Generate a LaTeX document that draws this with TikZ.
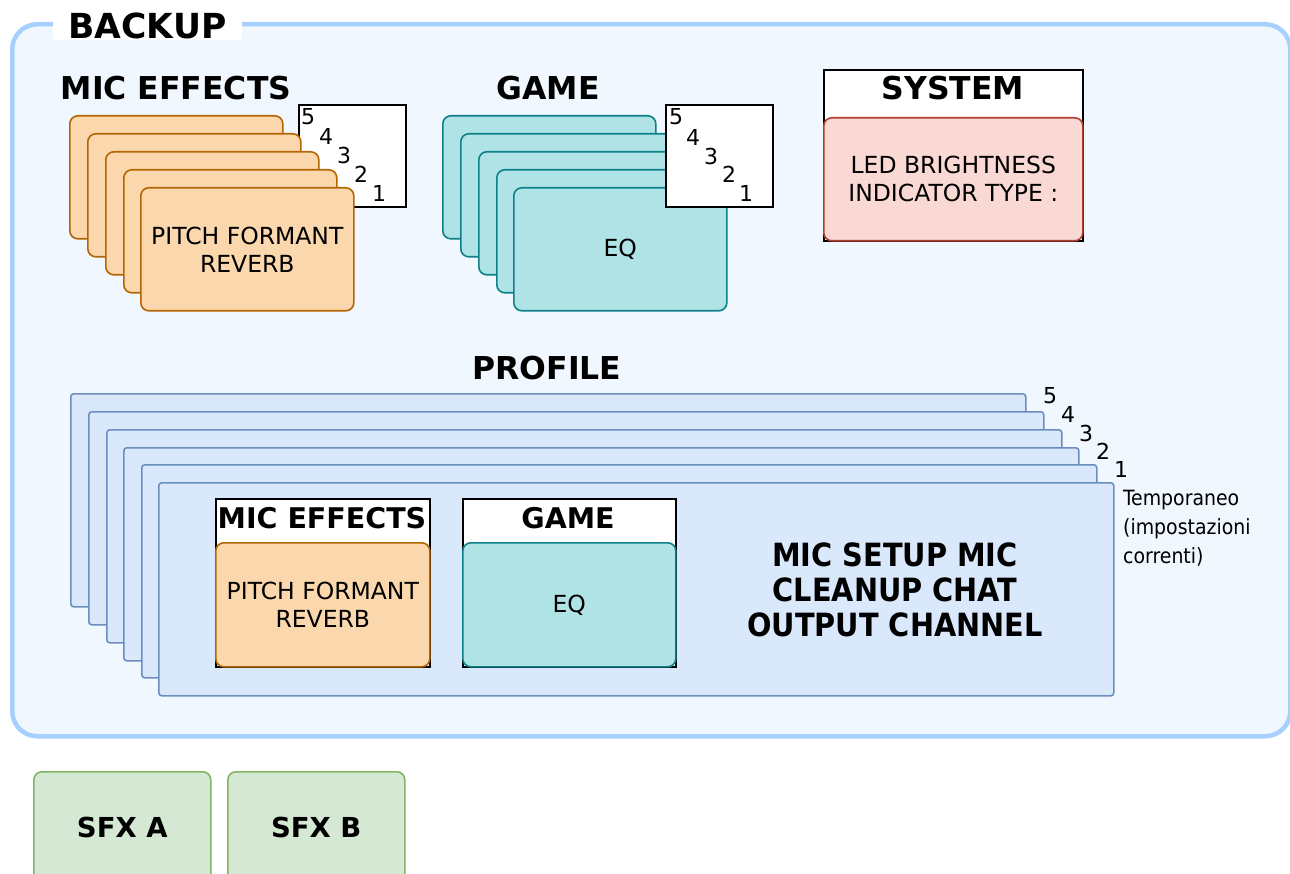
\documentclass[tikz,border=0pt]{standalone}
\usepackage{fontspec}
\setmainfont{DejaVu Sans}
\newfontfamily\condfont{DejaVu Sans Condensed}[BoldFont={DejaVu Sans Condensed Bold}]
\definecolor{bkfill}{HTML}{F0F7FE}
\definecolor{bkline}{HTML}{A6D1FF}
\definecolor{orf}{HTML}{FAD7AC}
\definecolor{ors}{HTML}{B46504}
\definecolor{tef}{HTML}{B0E3E6}
\definecolor{tes}{HTML}{0E8088}
\definecolor{ref}{HTML}{FAD9D5}
\definecolor{res}{HTML}{AE4132}
\definecolor{blf}{HTML}{DAE8FC}
\definecolor{bls}{HTML}{6C8EBF}
\definecolor{grf}{HTML}{D5E8D4}
\definecolor{grs}{HTML}{82B366}
\tikzset{
  box/.style={draw, line width=1.6pt, anchor=north west, inner sep=0pt, align=center},
  orcard/.style={box, rounded corners=8pt, fill=orf, draw=ors, minimum width=213pt, minimum height=123pt, font=\fontsize{23.5}{28}\selectfont},
  tecard/.style={box, rounded corners=8pt, fill=tef, draw=tes, minimum width=213pt, minimum height=123pt, font=\fontsize{23.5}{28}\selectfont},
  numbox/.style={box, fill=white, draw=black, minimum width=107pt, minimum height=102pt},
  num/.style={inner sep=0pt, font=\fontsize{22}{26}\selectfont},
  title/.style={inner sep=0pt, font=\bfseries\fontsize{31.5}{36}\selectfont},
  prcard/.style={box, rounded corners=3pt, fill=blf, draw=bls, minimum width=955pt, minimum height=213pt},
  whitebox/.style={box, fill=white, draw=black},
  sfx/.style={box, rounded corners=8pt, fill=grf, draw=grs, minimum width=177pt, minimum height=112pt, font=\bfseries\fontsize{27.5}{32}\selectfont},
}
\begin{document}
\begin{tikzpicture}[x=1pt,y=-1pt]
\useasboundingbox (0,0) rectangle (1290,874);
\clip (0,0) rectangle (1290,874);
\fill[white] (0,0) rectangle (1290,874);
% backup container
\node[box, rounded corners=25pt, fill=bkfill, draw=bkline, line width=4.5pt, minimum width=1278pt, minimum height=712pt] (backup) at (10,22) {};
\node[fill=white, inner sep=0pt, minimum width=189pt, minimum height=28pt, font=\bfseries\fontsize{34.5}{38}\selectfont] (backuplbl) at (147.5,26) {BACKUP};

% MIC EFFECTS stack
\node[title] (metitle) at (176,88) {MIC EFFECTS};
\node[numbox] (mebox) at (298,104) {};
\node[num] (me5) at (308,117) {5};
\node[num] (me4) at (326,136) {4};
\node[num] (me3) at (344,155) {3};
\node[num] (me2) at (361,174) {2};
\node[num] (me1) at (379,193) {1};
\node[orcard] (mec1) at (69,115) {};
\node[orcard] (mec2) at (87,133) {};
\node[orcard] (mec3) at (105,151) {};
\node[orcard] (mec4) at (123,169) {};
\node[orcard] (mec5) at (140,187) {PITCH FORMANT\\REVERB};

% GAME stack
\node[title] (gatitle) at (548,88) {GAME};
\node[tecard] (gac1) at (442,115) {};
\node[tecard] (gac2) at (460,133) {};
\node[tecard] (gac3) at (478,151) {};
\node[tecard] (gac4) at (496,169) {};
\node[tecard] (gac5) at (513,187) {EQ};
\node[numbox] (gabox) at (665,104) {};
\node[num] (ga5) at (676,117) {5};
\node[num] (ga4) at (693,137) {4};
\node[num] (ga3) at (711,156) {3};
\node[num] (ga2) at (729,174) {2};
\node[num] (ga1) at (746,193) {1};

% SYSTEM
\node[whitebox, minimum width=259pt, minimum height=171pt] (sysbox) at (823,69) {};
\node[title] (systitle) at (953,88) {SYSTEM};
\node[box, rounded corners=8pt, fill=ref, draw=res, minimum width=259pt, minimum height=123pt, font=\fontsize{23.5}{28}\selectfont] (sysin) at (823,117) {LED BRIGHTNESS\\INDICATOR TYPE :};

% PROFILE
\node[title] (prtitle) at (547,368) {PROFILE};
\node[prcard] (pr5) at (70,393) {};
\node[prcard] (pr4) at (88,411) {};
\node[prcard] (pr3) at (106,429) {};
\node[prcard] (pr2) at (123,447) {};
\node[prcard] (pr1) at (141,464) {};
\node[prcard] (pr0) at (158,482) {};
\node[num] (pn5) at (1050,396) {5};
\node[num] (pn4) at (1068,414) {4};
\node[num] (pn3) at (1086,433) {3};
\node[num] (pn2) at (1103,451) {2};
\node[num] (pn1) at (1121,469) {1};
\node[inner sep=0pt, anchor=west, align=left, font=\condfont\fontsize{21}{29}\selectfont] (temp) at (1123,528) {Temporaneo\\(impostazioni\\correnti)};

% inside profile
\node[whitebox, minimum width=214pt, minimum height=168pt] (pme) at (215,498) {};
\node[inner sep=0pt, font=\bfseries\fontsize{28.5}{32}\selectfont] (pmetitle) at (322,518) {MIC EFFECTS};
\node[orcard, minimum width=214pt, minimum height=124pt] (pmein) at (215,542) {PITCH FORMANT\\REVERB};
\node[whitebox, minimum width=213pt, minimum height=168pt] (pga) at (462,498) {};
\node[inner sep=0pt, font=\bfseries\fontsize{28.5}{32}\selectfont] (pgatitle) at (568,518) {GAME};
\node[tecard, minimum width=213pt, minimum height=124pt] (pgain) at (462,542) {EQ};
\node[inner sep=0pt, align=center, font=\condfont\bfseries\fontsize{32}{35}\selectfont] (setup) at (895,590) {MIC SETUP MIC\\CLEANUP CHAT\\OUTPUT CHANNEL};

% SFX
\node[sfx] (sfxa) at (33,771) {SFX A};
\node[sfx] (sfxb) at (227,771) {SFX B};
\end{tikzpicture}
\end{document}
